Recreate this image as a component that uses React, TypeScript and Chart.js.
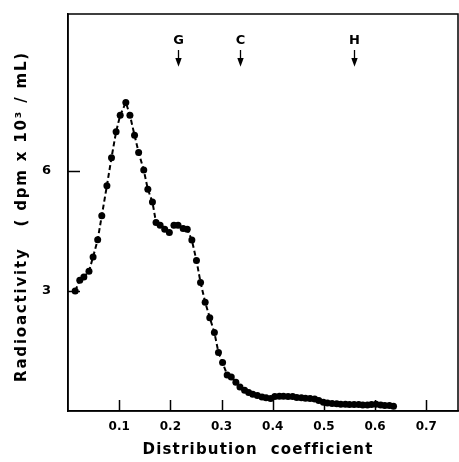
import React, { useEffect, useRef } from 'react';
import { Chart, registerables } from 'chart.js';

Chart.register(...registerables);

const xValues = [
  0.014, 0.023, 0.031, 0.041, 0.049, 0.058, 0.066, 0.076, 0.085, 0.094,
  0.102, 0.113, 0.121, 0.130, 0.138, 0.148, 0.156, 0.165, 0.172, 0.180,
  0.189, 0.198, 0.207, 0.215, 0.225, 0.233, 0.242, 0.251, 0.259, 0.268,
  0.277, 0.286, 0.294, 0.302, 0.311, 0.319, 0.328, 0.336, 0.345, 0.353,
  0.361, 0.370, 0.379, 0.387, 0.396, 0.404, 0.413, 0.421, 0.430, 0.439,
  0.447, 0.456, 0.464, 0.473, 0.482, 0.490, 0.499, 0.507, 0.516, 0.525,
  0.533, 0.542, 0.550, 0.559, 0.568, 0.576, 0.585, 0.593, 0.602, 0.611,
  0.619, 0.628, 0.636,
];
const yValues = [
  3.0, 3.27, 3.35, 3.49, 3.85, 4.28, 4.88, 5.63, 6.33, 6.98,
  7.39, 7.71, 7.39, 6.89, 6.46, 6.02, 5.54, 5.22, 4.71, 4.64,
  4.54, 4.46, 4.64, 4.64, 4.56, 4.54, 4.27, 3.76, 3.21, 2.72,
  2.33, 1.96, 1.46, 1.21, 0.9, 0.85, 0.72, 0.6, 0.52, 0.46,
  0.42, 0.39, 0.35, 0.33, 0.31, 0.36, 0.37, 0.37, 0.36, 0.36,
  0.34, 0.33, 0.32, 0.31, 0.3, 0.26, 0.22, 0.2, 0.19, 0.18,
  0.17, 0.17, 0.16, 0.16, 0.16, 0.15, 0.15, 0.16, 0.17, 0.15,
  0.14, 0.14, 0.12,
];
const xTickValues = [0.1, 0.2, 0.3, 0.4, 0.5, 0.6, 0.7];
const yTickValues = [3, 6];
const markerLabels = ['G', 'C', 'H'];
const markerX = [0.215, 0.337, 0.558];
const xTitle = 'Distribution  coefficient';
const yTitle = 'Radioactivity   ( dpm x 10³ / mL)';

const FONT = '"DejaVu Sans", sans-serif';

const decorPlugin = {
  id: 'decor',
  afterDraw(chart: any) {
    const { ctx, chartArea, scales } = chart;
    const xs = scales.x;
    const ys = scales.y;
    ctx.save();
    ctx.strokeStyle = '#000';
    ctx.fillStyle = '#000';
    ctx.lineWidth = 1.5;
    ctx.strokeRect(chartArea.left, chartArea.top, chartArea.right - chartArea.left, chartArea.bottom - chartArea.top);
    // inward ticks
    ctx.lineWidth = 1.5;
    xTickValues.forEach((v) => {
      const px = Math.round(xs.getPixelForValue(v)) + 0.5;
      ctx.beginPath();
      ctx.moveTo(px, chartArea.bottom);
      ctx.lineTo(px, chartArea.bottom - 11);
      ctx.stroke();
    });
    yTickValues.forEach((v) => {
      const py = Math.round(ys.getPixelForValue(v)) + 0.5;
      ctx.beginPath();
      ctx.moveTo(chartArea.left, py);
      ctx.lineTo(chartArea.left + 12, py);
      ctx.stroke();
    });
    // markers
    ctx.font = `bold 13px ${FONT}`;
    ctx.textAlign = 'center';
    ctx.textBaseline = 'middle';
    markerLabels.forEach((lab, i) => {
      const px = Math.round(xs.getPixelForValue(markerX[i])) + 0.5;
      const ty = ys.getPixelForValue(9.25);
      ctx.fillText(lab, px, ty);
      const a0 = ys.getPixelForValue(9.02);
      const a1 = ys.getPixelForValue(8.82);
      const tip = ys.getPixelForValue(8.6);
      ctx.lineWidth = 1.3;
      ctx.beginPath();
      ctx.moveTo(px, a0);
      ctx.lineTo(px, a1);
      ctx.stroke();
      ctx.beginPath();
      ctx.moveTo(px - 3.2, a1);
      ctx.lineTo(px + 3.2, a1);
      ctx.lineTo(px, tip);
      ctx.closePath();
      ctx.fill();
    });
    // axis titles
    (ctx as any).letterSpacing = '1.2px';
    ctx.font = `bold 15px ${FONT}`;
    ctx.textAlign = 'center';
    ctx.textBaseline = 'middle';
    ctx.fillText(xTitle, (chartArea.left + chartArea.right) / 2 - 5, 450);
    (ctx as any).letterSpacing = '1.8px';
    ctx.translate(22, (chartArea.top + chartArea.bottom) / 2 + 4);
    ctx.rotate(-Math.PI / 2);
    ctx.fillText(yTitle, 0, 0);
    ctx.restore();
  },
};

export default function App() {
  const ref = useRef<HTMLCanvasElement>(null);
  useEffect(() => {
    document.body.style.margin = '0';
    const points = xValues.map((x, i) => ({ x, y: yValues[i] }));
    const chart = new Chart(ref.current as HTMLCanvasElement, {
      type: 'line',
      data: {
        datasets: [
          {
            data: points,
            borderColor: '#000',
            backgroundColor: '#000',
            borderWidth: 2,
            borderDash: [5, 3],
            pointRadius: 3.5,
            pointBackgroundColor: '#000',
            pointBorderWidth: 0,
            tension: 0,
          },
        ],
      },
      options: {
        animation: false,
        responsive: false,
        layout: { autoPadding: false, padding: { top: 14, right: 1, left: 0, bottom: 0 } },
        plugins: { legend: { display: false }, tooltip: { enabled: false } },
        scales: {
          x: {
            type: 'linear',
            min: 0,
            max: 0.762,
            afterBuildTicks: (s: any) => {
              s.ticks = xTickValues.map((v) => ({ value: v }));
            },
            afterFit: (s: any) => {
              s.height = 51;
              s.paddingLeft = 0;
              s.paddingRight = 0;
              s.paddingTop = 0;
              s.paddingBottom = 0;
            },
            grid: { display: false, drawTicks: false },
            border: { display: true, color: '#000', width: 1.5 },
            ticks: {
              autoSkip: false,
              maxRotation: 0,
              padding: 9,
              color: '#000',
              font: { family: FONT, weight: 'bold', size: 12 },
              callback: (v: any) => Number(v).toFixed(1),
            },
          },
          y: {
            type: 'linear',
            min: 0,
            max: 9.92,
            afterBuildTicks: (s: any) => {
              s.ticks = yTickValues.map((v) => ({ value: v }));
            },
            afterFit: (s: any) => {
              s.width = 68;
              s.paddingLeft = 0;
              s.paddingRight = 0;
              s.paddingTop = 0;
              s.paddingBottom = 0;
            },
            grid: { display: false, drawTicks: false },
            border: { display: true, color: '#000', width: 1.5 },
            ticks: {
              autoSkip: false,
              padding: 17,
              color: '#000',
              font: { family: FONT, weight: 'bold', size: 13 },
              callback: (v: any) => String(v),
            },
          },
        },
      },
      plugins: [decorPlugin],
    } as any);
    return () => chart.destroy();
  }, []);
  return (
    <div style={{ width: 459, height: 462, position: 'relative' }}>
      <canvas ref={ref} width={459} height={462} style={{ display: 'block', width: 459, height: 462 }} />
    </div>
  );
}
